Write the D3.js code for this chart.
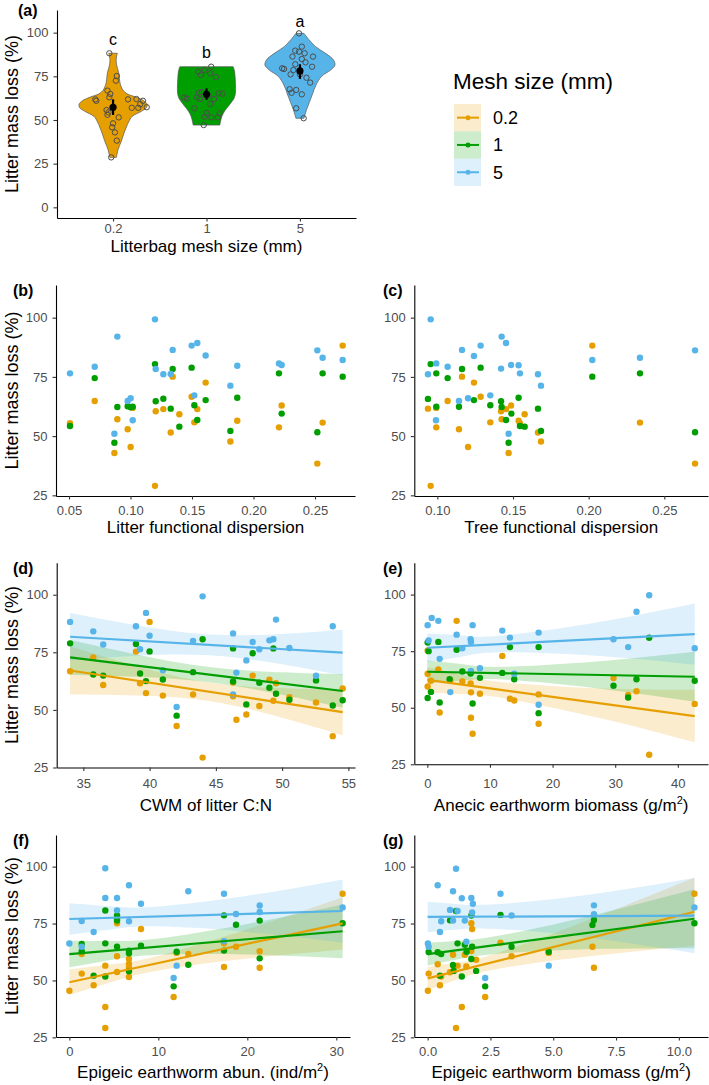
<!DOCTYPE html>
<html><head><meta charset="utf-8">
<script src="https://cdn.jsdelivr.net/npm/d3@7"></script>
<style>body{margin:0;background:#fff}svg{display:block}</style>
</head><body><svg id="chart" width="709" height="1085"></svg>
<script>
// ---------------- DATA ----------------
const meshLevels = ["0.2", "1", "5"];

// (a) violin profiles: litter mass loss (%) and relative density (0-1)
const violinY_02 = [88.2,86,82,77,71,67,65,63,61,59,57,55,52,49,46,42,38,33,28.6];
const violinD_02 = [13,10,10,17,21,30,42,70,92,102,100,85,57,47,40,32,25,15,10].map(v=>v/105);
const violinY_1  = [80.5,78,74,70,66,63,61,58,55,52,49,47.1];
const violinD_1  = [80,84,86,87,87,84,78,66,54,46,42,40].map(v=>v/105);
const violinY_5  = [99.6,96,92,88,84.5,81.5,78.6,75,70,65,60,56,53,51];
const violinD_5  = [12,27,47,78,100,105,92,65,48,38,28,20,15,12].map(v=>v/105);

// (a) jittered observations: mass loss and horizontal jitter (category units)
const jitY_02 = [88.2,75.2,72.5,66.8,64.9,63.0,61.8,61.0,61.8,62.0,61.0,59.0,57.3,57.0,57.0,55.7,54.4,53.0,51.5,48.1,45.8,42.9,38.2,28.6];
const jitX_02 = [-0.04,0.04,0.03,-0.06,-0.03,-0.04,-0.19,-0.18,0.16,0.25,0.32,0.29,0.36,0.27,0.20,-0.07,-0.05,-0.06,0.06,0.0,-0.01,0.02,0.04,-0.02];
const jitY_1  = [80.5,78.6,77.7,76.7,75.8,74.5,66.0,65.6,65.3,65.0,62.8,62.2,62.0,62.0,59.2,56.7,54.0,53.8,51.9,51.5,51.5,47.1,64.0,63.0];
const jitX_1  = [0.05,-0.02,-0.09,0.04,-0.06,0.10,-0.05,-0.08,0.13,0.17,-0.24,-0.21,-0.07,0.08,0.04,-0.13,0.0,0.14,-0.02,0.05,0.12,-0.03,0.02,-0.10];
const jitY_5  = [99.6,92.0,89.7,89.1,88.2,86.3,86.3,84.9,83.0,81.9,80.5,79.6,79.2,78.6,76.1,76.1,74.2,71.4,67.6,67.2,65.6,64.7,56.7,51.0];
const jitX_5  = [-0.01,0.02,-0.05,-0.01,0.05,-0.08,0.14,0.02,0.06,-0.05,0.13,-0.19,-0.17,-0.07,-0.10,0.0,0.07,0.11,-0.11,-0.04,-0.09,0.02,-0.04,0.04];

const meanLoss = [57.3, 64.7, 78.1];
const ciLow    = [52.9, 61.5, 73.5];
const ciHigh   = [61.8, 68.1, 81.9];
const groupLetters = ["c", "b", "a"];
const letterY = [92.9, 85.3, 103.4];

// (b) litter functional dispersion
const litterFD_02 = [[0.0508,55.4],[0.0709,64.8],[0.0869,42.9],[0.0893,57.1],[0.0977,52.9],[0.1001,45.4],[0.1018,61.9],[0.1199,29.0],[0.1205,60.5],[0.1267,61.4],[0.1327,51.5],[0.1343,75.1],[0.1397,59.2],[0.1497,66.6],[0.1519,55.8],[0.1543,61.4],[0.1611,72.6],[0.1812,47.7],[0.1868,56.5],[0.2207,53.7],[0.2229,62.9],[0.2519,38.4],[0.2562,55.7],[0.2725,88.2]];
const litterFD_1 = [[0.0508,54.3],[0.0709,74.5],[0.0869,47.2],[0.0893,62.3],[0.0977,62.6],[0.1001,62.2],[0.1018,62.4],[0.1199,80.4],[0.1205,64.7],[0.1267,65.8],[0.1327,61.6],[0.1343,78.3],[0.1397,54.0],[0.1497,78.9],[0.1519,63.0],[0.1543,56.8],[0.1611,65.2],[0.1812,52.2],[0.1868,66.2],[0.2207,76.5],[0.2229,59.5],[0.2519,51.6],[0.2562,76.5],[0.2725,75.1]];
const litterFD_5 = [[0.0508,76.5],[0.0709,79.3],[0.0869,51.0],[0.0893,92.0],[0.0977,64.8],[0.1001,66.0],[0.1018,56.7],[0.1199,99.3],[0.1205,78.3],[0.1267,76.1],[0.1327,76.2],[0.1343,86.4],[0.1497,88.2],[0.1519,67.2],[0.1543,89.3],[0.1611,84.0],[0.1812,71.3],[0.1868,79.7],[0.2207,80.7],[0.2229,80.0],[0.2519,86.2],[0.2562,83.1],[0.2725,82.1]];

// (c) tree functional dispersion
const treeFD_02 = [[0.0938,61.6],[0.0956,29.0],[0.0993,61.9],[0.0993,53.7],[0.1068,64.8],[0.1143,52.9],[0.1163,75.1],[0.1203,45.4],[0.1242,72.6],[0.1286,66.6],[0.1350,55.8],[0.1421,60.5],[0.1425,57.1],[0.1454,61.4],[0.1471,42.9],[0.1487,62.9],[0.1537,56.5],[0.1546,55.4],[0.1577,59.2],[0.1665,51.5],[0.1685,47.7],[0.2024,88.2],[0.2339,55.7],[0.2703,38.4]];
const treeFD_1 = [[0.0938,65.7],[0.0956,80.4],[0.0993,76.5],[0.0993,62.4],[0.1068,74.5],[0.1143,62.4],[0.1163,78.3],[0.1242,65.2],[0.1286,78.9],[0.1350,63.0],[0.1421,64.7],[0.1425,62.3],[0.1454,56.8],[0.1471,47.2],[0.1489,59.5],[0.1537,66.2],[0.1546,54.3],[0.1577,54.0],[0.1665,61.6],[0.1685,52.2],[0.2024,75.1],[0.2339,76.5],[0.2703,51.6]];
const treeFD_5 = [[0.0938,76.1],[0.0956,99.3],[0.0993,80.7],[0.0991,56.7],[0.1068,79.3],[0.1143,64.8],[0.1163,86.4],[0.1203,66.0],[0.1242,83.8],[0.1286,88.2],[0.1350,67.2],[0.1421,78.5],[0.1425,92.0],[0.1454,89.3],[0.1471,51.0],[0.1487,80.0],[0.1537,79.9],[0.1546,76.5],[0.1665,76.1],[0.1685,71.3],[0.2024,82.1],[0.2339,83.1],[0.2703,86.2]];

// (d) CWM of litter C:N
const cwmCN_02 = [[34.0,66.8],[35.75,72.8],[36.5,60.8],[38.97,75.3],[39.28,61.6],[39.73,57.3],[40.0,88.2],[41.0,56.2],[42.04,43.0],[43.28,56.7],[44.0,29.3],[46.3,61.9],[46.3,55.9],[46.55,45.7],[47.3,48.0],[47.78,64.9],[48.28,51.7],[49.04,63.1],[49.34,54.0],[49.54,61.6],[50.55,55.5],[52.56,53.2],[53.82,38.6],[54.57,59.3]];
const cwmCN_1 = [[34.0,78.9],[35.75,65.4],[36.5,64.9],[38.97,78.6],[39.28,65.8],[39.73,62.5],[40.0,75.4],[41.0,63.2],[42.04,47.5],[43.28,66.4],[44.0,80.7],[46.3,76.7],[46.3,62.3],[47.3,52.4],[47.78,74.6],[48.28,61.8],[49.04,59.6],[49.34,76.7],[49.54,57.0],[50.55,54.4],[52.56,62.8],[53.82,51.9],[54.57,54.2]];
const cwmCN_5 = [[34.0,88.2],[35.75,84.1],[36.5,78.4],[38.97,86.3],[39.28,76.3],[39.73,92.1],[40.0,82.2],[41.0,67.2],[42.04,51.3],[43.28,79.9],[44.0,99.3],[46.3,83.2],[46.3,56.7],[46.55,66.2],[47.3,71.5],[47.78,79.5],[48.28,76.3],[49.04,80.2],[49.34,80.7],[49.54,89.2],[50.55,76.9],[52.56,64.8],[53.82,86.3]];

// (e) anecic earthworm biomass
const anecic_02 = [[0.05,75.3],[0.05,65.0],[0.05,59.4],[0.58,61.9],[1.76,66.9],[1.97,47.9],[4.68,88.4],[3.67,62.2],[5.59,61.6],[6.91,60.7],[6.97,56.8],[6.97,45.6],[7.23,38.5],[8.4,56.2],[11.97,72.9],[13.19,54.0],[13.88,53.2],[17.77,55.9],[17.77,42.9],[29.73,63.1],[32.07,55.6],[33.4,57.3],[35.43,29.2],[42.7,51.7]];
const anecic_1 = [[0.05,78.8],[0.2,75.0],[1.76,79.1],[0.58,57.0],[0.05,54.3],[1.97,52.3],[4.68,75.6],[5.59,66.0],[3.56,62.6],[6.91,65.1],[7.23,51.9],[8.4,63.2],[11.97,65.4],[13.19,76.8],[13.88,62.6],[17.77,76.8],[17.77,47.6],[29.73,59.7],[32.07,54.5],[33.4,62.6],[35.43,80.9],[42.7,61.9]];
const anecic_5 = [[0.05,86.5],[0.2,79.7],[0.7,89.7],[1.76,88.4],[1.97,71.6],[4.68,82.3],[5.59,76.3],[6.91,80.3],[6.97,79.1],[7.23,86.5],[6.97,66.3],[8.4,67.5],[3.67,56.9],[11.97,84.1],[13.19,81.0],[13.88,65.0],[17.77,83.2],[17.77,51.3],[29.73,80.3],[32.07,76.8],[33.4,92.4],[35.43,99.7],[42.7,76.3]];

// (f) epigeic earthworm abundance
const epiAbun_02 = [[0,45.5],[1.39,61.6],[1.39,53.0],[2.73,47.9],[4.04,56.5],[4.04,38.3],[4.04,29.1],[5.36,75.1],[5.36,60.6],[5.36,53.7],[6.7,59.4],[6.7,57.2],[6.7,55.5],[6.7,51.5],[8.05,72.6],[11.72,42.7],[12.06,62.1],[13.37,61.6],[17.38,66.3],[17.38,55.9],[18.73,64.8],[21.39,62.8],[21.39,55.6],[30.71,88.1]];
const epiAbun_1 = [[1.39,66.0],[1.39,62.8],[2.73,52.1],[4.04,80.7],[4.04,66.3],[4.04,51.7],[5.36,78.6],[5.36,77.0],[5.36,76.3],[5.36,64.8],[6.7,63.1],[6.7,61.9],[6.7,54.0],[8.05,65.3],[11.72,47.4],[12.06,62.6],[13.37,56.9],[17.38,78.6],[17.38,63.1],[18.73,74.5],[21.39,76.3],[21.39,59.7],[30.71,75.1]];
const epiAbun_5 = [[0,66.2],[1.39,76.1],[1.39,64.8],[2.73,71.3],[4.04,99.3],[4.04,86.2],[5.36,86.2],[5.36,80.8],[6.7,91.8],[6.7,76.0],[8.05,83.7],[11.72,51.1],[12.06,56.5],[13.37,89.2],[17.38,88.1],[17.38,67.2],[18.73,79.2],[21.39,82.9],[21.39,80.1],[30.71,82.1]];

// (g) epigeic earthworm biomass
const epiBio_02 = [[0.01,45.5],[0.04,53.0],[0.4,57.1],[0.49,47.9],[0.54,51.7],[0.89,53.6],[1.01,61.3],[1.04,56.1],[1.13,29.1],[1.19,56.5],[1.36,38.3],[1.48,61.3],[1.54,56.1],[1.74,75.1],[1.77,72.6],[1.74,62.9],[1.93,59.1],[2.29,42.7],[2.9,66.6],[3.34,60.6],[4.82,62.1],[6.56,64.8],[6.62,55.6],[10.62,88.1]];
const epiBio_1 = [[0.04,62.5],[0.4,62.4],[0.54,61.6],[0.49,52.1],[0.89,76.4],[1.01,56.8],[1.04,54.2],[1.13,80.5],[1.19,66.3],[1.36,51.7],[1.48,65.7],[1.55,62.6],[1.74,78.5],[1.77,64.8],[1.74,59.4],[1.93,54.2],[2.29,47.4],[2.9,78.8],[3.34,64.8],[4.82,62.6],[6.56,74.4],[6.62,76.6],[10.62,75.1]];
const epiBio_5 = [[0.01,66.2],[0.04,64.8],[0.4,91.8],[0.49,71.3],[0.54,76.0],[0.89,81.0],[1.01,89.2],[1.01,76.3],[1.13,99.1],[1.19,80.5],[1.36,86.1],[1.48,76.3],[1.54,67.0],[1.74,86.2],[1.77,79.9],[1.8,83.7],[2.29,51.1],[2.9,88.1],[3.34,78.5],[4.82,56.5],[6.62,79.1],[6.62,83.0],[10.62,82.1]];

// fitted lines (ends) and confidence bands read at fitX positions
const fitX_cwm = [34.0, 39, 44.5, 50, 54.57];
const fitLine_cwm = {"0.2":[67.1,49.0], "1":[72.8,58.2], "5":[81.75,74.85]};
const fitUp_cwm = {"0.2":[77.5,69.1,61.86,59.4,59.0], "1":[80.3,74.1,68.65,66.3,65.45], "5":[92.05,86.7,82.7,83.0,84.8]};
const fitLo_cwm = {"0.2":[56.7,56.3,53.86,46.6,39.0], "1":[65.3,64.4,62.05,56.6,50.95], "5":[71.45,73.5,73.7,69.8,64.9]};

const fitX_anecic = [0, 6, 12, 27, 42.7];
const fitLine_anecic = {"0.2":[62.3,46.3], "1":[65.9,63.7], "5":[76.5,82.5]};
const fitUp_anecic = {"0.2":[67.85,64.16,61.3,58.62,57.9], "1":[70.9,69.08,68.08,70.41,74.7], "5":[82.8,81.83,81.89,87.65,96.04]};
const fitLo_anecic = {"0.2":[56.75,55.94,54.3,45.74,34.7], "1":[60.9,62.1,62.48,58.61,52.7], "5":[70.2,72.85,74.49,72.93,68.96]};

const fitX_abun = [0, 5, 10, 20, 30.71];
const fitLine_abun = {"0.2":[49.2,75.1], "1":[61.6,71.6], "5":[77.0,80.5]};
const fitUp_abun = {"0.2":[54.8,57.22,60.88,72.53,86.6], "1":[67.44,67.3,68.4,74.81,83.4], "5":[83.96,82.51,82.48,87.23,94.4]};
const fitLo_abun = {"0.2":[43.6,49.62,54.4,59.61,63.6], "1":[55.76,59.16,61.32,61.41,59.8], "5":[70.04,72.63,73.8,71.33,66.6]};

const fitX_bio = [0, 1, 2.5, 6, 10.62];
const fitLine_bio = {"0.2":[50.9,80.2], "1":[61.6,77.1], "5":[77.9,78.5]};
const fitUp_bio = {"0.2":[55.95,57.56,61.12,74.83,95.2], "1":[66.6,67.25,69.06,77.14,90.1], "5":[84.58,83.70,83.36,87.05,95.0]};
const fitLo_bio = {"0.2":[45.85,49.76,54.48,60.07,65.2], "1":[56.6,58.87,61.44,63.58,64.1], "5":[71.22,72.22,72.72,69.43,62.0]};

// ---------------- STYLE ----------------
const meshColors = {"0.2":"#E69F00", "1":"#009E00", "5":"#56B4E9"};
const FONT = '"Liberation Sans", Arial, Helvetica, sans-serif';
const svg = d3.select("#chart").style("font-family", FONT);

function styleAxis(g) {
  g.select(".domain").attr("stroke", "#000").attr("stroke-width", 1.1);
  g.selectAll(".tick line").attr("stroke", "#333").attr("stroke-width", 1.1);
  g.selectAll(".tick text").attr("fill", "#4D4D4D").attr("font-size", 13).attr("font-family", FONT);
}
function panelLabel(txt, x, y) {
  svg.append("text").attr("x", x).attr("y", y).attr("font-size", 16).attr("font-weight", "bold").text(txt);
}
function yTitle(cy) {
  svg.append("text").attr("transform", `translate(18,${cy}) rotate(-90)`).attr("text-anchor", "middle")
    .attr("font-size", 18).attr("fill", "#000").text("Litter mass loss (%)");
}
function xTitle(cx, y, main, sup, tail) {
  const t = svg.append("text").attr("x", cx).attr("y", y).attr("text-anchor", "middle").attr("font-size", 17).attr("fill", "#000");
  t.append("tspan").text(main);
  if (sup) {
    t.append("tspan").attr("dy", -7).attr("font-size", 11).text(sup);
    t.append("tspan").attr("dy", 7).text(tail);
  }
}

// ---------------- PANEL (a) ----------------
(function () {
  const P = {left: 57, right: 356, top: 10, bottom: 218};
  const x = d3.scalePoint().domain(meshLevels).range([P.left, P.right]).padding(0.6);
  const y = d3.scaleLinear().domain([-6.11, 112.97]).range([P.bottom, P.top]);
  const w = d3.scaleLinear().domain([0, 1]).range([0, 35]);
  const step = x.step();
  const violins = {"0.2": [violinY_02, violinD_02], "1": [violinY_1, violinD_1], "5": [violinY_5, violinD_5]};
  const jit = {"0.2": [jitY_02, jitX_02], "1": [jitY_1, jitX_1], "5": [jitY_5, jitX_5]};
  const g = svg.append("g");
  meshLevels.forEach((m, i) => {
    const cx = x(m);
    const prof = violins[m][0].map((yv, k) => ({y: yv, d: violins[m][1][k]}));
    const area = d3.area().y(d => y(d.y)).x0(d => cx - w(d.d)).x1(d => cx + w(d.d)).curve(d3.curveCatmullRom.alpha(0.5));
    g.append("path").datum(prof).attr("d", area).attr("fill", meshColors[m]).attr("stroke", "#555").attr("stroke-width", 0.7);
    const [jy, jx] = jit[m];
    g.selectAll(null).data(jy).enter().append("circle")
      .attr("cx", (d, k) => cx + jx[k] * step).attr("cy", d => y(d)).attr("r", 2.7)
      .attr("fill", "none").attr("stroke", "#4d4d4d").attr("stroke-width", 1);
    g.append("line").attr("x1", cx).attr("x2", cx).attr("y1", y(ciLow[i])).attr("y2", y(ciHigh[i]))
      .attr("stroke", "#000").attr("stroke-width", 2.2);
    g.append("circle").attr("cx", cx).attr("cy", y(meanLoss[i])).attr("r", 3.6).attr("fill", "#000");
    g.append("text").attr("x", cx).attr("y", y(letterY[i])).attr("text-anchor", "middle").attr("font-size", 16).text(groupLetters[i]);
  });
  const ax = svg.append("g").attr("transform", `translate(0,${P.bottom})`)
    .call(d3.axisBottom(x).tickSize(3.5).tickSizeOuter(0).tickPadding(2.5));
  styleAxis(ax);
  const ay = svg.append("g").attr("transform", `translate(${P.left},0)`)
    .call(d3.axisLeft(y).tickValues([0, 25, 50, 75, 100]).tickSize(3.5).tickSizeOuter(0).tickPadding(5));
  styleAxis(ay);
  panelLabel("(a)", 18, 16);
  yTitle((P.top + P.bottom) / 2);
  xTitle((P.left + P.right) / 2, 252, "Litterbag mesh size (mm)");
})();

// ---------------- LEGEND ----------------
(function () {
  svg.append("text").attr("x", 453).attr("y", 89).attr("font-size", 22.5).text("Mesh size (mm)");
  meshLevels.forEach((m, i) => {
    const top = 104 + i * 27.3, cy = top + 13.65;
    svg.append("rect").attr("x", 454).attr("y", top).attr("width", 27).attr("height", 27.3)
      .attr("fill", meshColors[m]).attr("fill-opacity", 0.2);
    svg.append("line").attr("x1", 457).attr("x2", 479).attr("y1", cy).attr("y2", cy)
      .attr("stroke", meshColors[m]).attr("stroke-width", 2);
    svg.append("circle").attr("cx", 468).attr("cy", cy).attr("r", 2.5).attr("fill", meshColors[m]);
    svg.append("text").attr("x", 493).attr("y", cy + 6.5).attr("font-size", 18).text(m);
  });
})();

// ---------------- SCATTER PANELS ----------------
function scatterPanel(p) {
  const x = d3.scaleLinear().domain(p.xDomain).range([p.left, p.right]);
  const y = d3.scaleLinear().domain(p.yDomain).range([p.bottom, p.top]);
  const g = svg.append("g");
  if (p.fit) {
    meshLevels.forEach(m => {
      const pts = p.fit.x.map((xv, j) => ({x: xv, lo: p.fit.lo[m][j], hi: p.fit.up[m][j]}));
      g.append("path").datum(pts)
        .attr("d", d3.area().x(d => x(d.x)).y0(d => y(d.lo)).y1(d => y(d.hi)).curve(d3.curveNatural))
        .attr("fill", meshColors[m]).attr("fill-opacity", 0.2).attr("stroke", "none");
    });
  }
  meshLevels.forEach(m => {
    g.selectAll(null).data(p.series[m]).enter().append("circle")
      .attr("cx", d => x(d[0])).attr("cy", d => y(d[1])).attr("r", 3.2).attr("fill", meshColors[m]);
  });
  if (p.fit) {
    const xs = [p.fit.x[0], p.fit.x[p.fit.x.length - 1]];
    meshLevels.forEach(m => {
      g.append("line").attr("x1", x(xs[0])).attr("x2", x(xs[1]))
        .attr("y1", y(p.fit.line[m][0])).attr("y2", y(p.fit.line[m][1]))
        .attr("stroke", meshColors[m]).attr("stroke-width", 2.2);
    });
  }
  const ax = svg.append("g").attr("transform", `translate(0,${p.bottom})`)
    .call(d3.axisBottom(x).tickValues(p.xTicks).tickFormat(p.xFormat).tickSize(3.5).tickSizeOuter(0).tickPadding(p.xPad));
  styleAxis(ax);
  const ay = svg.append("g").attr("transform", `translate(${p.left},0)`)
    .call(d3.axisLeft(y).tickValues([25, 50, 75, 100]).tickSize(3.5).tickSizeOuter(0).tickPadding(5));
  styleAxis(ay);
  panelLabel(p.label, p.labelX, p.labelY);
  if (p.yTitle) yTitle((p.top + p.bottom) / 2);
  xTitle((p.left + p.right) / 2, p.titleY, p.xTitle[0], p.xTitle[1], p.xTitle[2]);
}

scatterPanel({label: "(b)", labelX: 13, labelY: 296, left: 56, right: 355, top: 285, bottom: 496, xPad: 6.5,
  xDomain: [0.03943, 0.28252], yDomain: [24.72, 113.79], xTicks: [0.05, 0.10, 0.15, 0.20, 0.25], xFormat: d3.format(".2f"),
  series: {"0.2": litterFD_02, "1": litterFD_1, "5": litterFD_5}, yTitle: true, titleY: 533,
  xTitle: ["Litter functional dispersion"]});

scatterPanel({label: "(c)", labelX: 383, labelY: 296, left: 414.3, right: 708, top: 285, bottom: 496, xPad: 6.5,
  xDomain: [0.08478, 0.27886], yDomain: [24.72, 113.79], xTicks: [0.10, 0.15, 0.20, 0.25], xFormat: d3.format(".2f"),
  series: {"0.2": treeFD_02, "1": treeFD_1, "5": treeFD_5}, yTitle: false, titleY: 533,
  xTitle: ["Tree functional dispersion"]});

scatterPanel({label: "(d)", labelX: 13, labelY: 574, left: 56.7, right: 355, top: 562.7, bottom: 767.5, xPad: 7.5,
  xDomain: [32.99, 55.50], yDomain: [25, 113.9], xTicks: [35, 40, 45, 50, 55], xFormat: d3.format("d"),
  series: {"0.2": cwmCN_02, "1": cwmCN_1, "5": cwmCN_5}, yTitle: true, titleY: 811,
  fit: {x: fitX_cwm, line: fitLine_cwm, up: fitUp_cwm, lo: fitLo_cwm},
  xTitle: ["CWM of litter C:N"]});

scatterPanel({label: "(e)", labelX: 383, labelY: 574, left: 414.3, right: 708, top: 562.7, bottom: 764.3, xPad: 10.5,
  xDomain: [-2.08, 44.82], yDomain: [25, 114.1], xTicks: [0, 10, 20, 30, 40], xFormat: d3.format("d"),
  series: {"0.2": anecic_02, "1": anecic_1, "5": anecic_5}, yTitle: false, titleY: 811,
  fit: {x: fitX_anecic, line: fitLine_anecic, up: fitUp_anecic, lo: fitLo_anecic},
  xTitle: ["Anecic earthworm biomass (g/m", "2", ")"]});

scatterPanel({label: "(f)", labelX: 13, labelY: 846, left: 56, right: 350, top: 835, bottom: 1037, xPad: 6.5,
  xDomain: [-1.50, 31.54], yDomain: [25.15, 113.9], xTicks: [0, 10, 20, 30], xFormat: d3.format("d"),
  series: {"0.2": epiAbun_02, "1": epiAbun_1, "5": epiAbun_5}, yTitle: true, titleY: 1078,
  fit: {x: fitX_abun, line: fitLine_abun, up: fitUp_abun, lo: fitLo_abun},
  xTitle: ["Epigeic earthworm abun. (ind/m", "2", ")"]});

scatterPanel({label: "(g)", labelX: 383, labelY: 846, left: 414.3, right: 708, top: 835, bottom: 1037, xPad: 6.5,
  xDomain: [-0.531, 11.16], yDomain: [25.15, 113.9], xTicks: [0, 2.5, 5, 7.5, 10], xFormat: d3.format(".1f"),
  series: {"0.2": epiBio_02, "1": epiBio_1, "5": epiBio_5}, yTitle: false, titleY: 1078,
  fit: {x: fitX_bio, line: fitLine_bio, up: fitUp_bio, lo: fitLo_bio},
  xTitle: ["Epigeic earthworm biomass (g/m", "2", ")"]});
</script></body></html>
